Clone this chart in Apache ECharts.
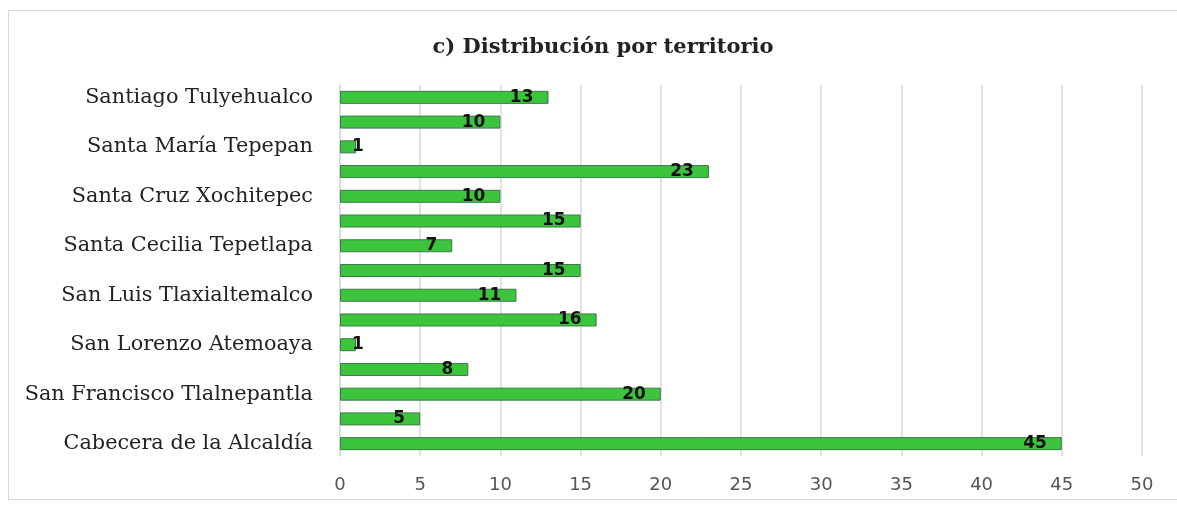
<!DOCTYPE html>
<html>
<head>
<meta charset="utf-8">
<script src="https://cdn.jsdelivr.net/npm/echarts@6/dist/echarts.min.js"></script>
<style>
  html, body { margin: 0; padding: 0; background: #fff; }
  #frame { position: absolute; left: 8px; top: 10px; width: 1175px; height: 488px; border: 1px solid #d9d9d9; }
  #main { position: absolute; left: 0; top: 0; width: 1177px; height: 508px; }
</style>
</head>
<body>
<div id="frame"></div>
<div id="main"></div>
<script>
// territorios, de abajo hacia arriba (como en el eje)
var territorios = [
  'Cabecera de la Alcaldía',
  'San Andrés Ahuayucan',
  'San Francisco Tlalnepantla',
  'San Gregorio Atlapulco',
  'San Lorenzo Atemoaya',
  'San Lucas Xochimanca',
  'San Luis Tlaxialtemalco',
  'San Mateo Xalpa',
  'Santa Cecilia Tepetlapa',
  'Santa Cruz Acalpixca',
  'Santa Cruz Xochitepec',
  'Santa María Nativitas',
  'Santa María Tepepan',
  'Santiago Tepalcatlalpan',
  'Santiago Tulyehualco'
];
var casos = [45, 5, 20, 8, 1, 16, 11, 15, 7, 15, 10, 23, 1, 10, 13];
var ticksX = [0, 5, 10, 15, 20, 25, 30, 35, 40, 45, 50];

var chart = echarts.init(document.getElementById('main'));

// las barras muy cortas llevan la etiqueta por fuera
var datos = casos.map(function (v) {
  if (v < 3) {
    return { value: v, label: { position: 'right', distance: -4 } };
  }
  return v;
});

var option = {
  backgroundColor: 'transparent',
  animation: false,
  title: {
    text: 'c) Distribución por territorio',
    left: 598,
    top: 32,
    textAlign: 'center',
    textStyle: {
      fontFamily: 'DejaVu Serif',
      fontWeight: 'bold',
      fontSize: 21,
      color: '#222'
    }
  },
  grid: { left: 340, right: 35, top: 85, bottom: 52 },
  xAxis: {
    type: 'value',
    min: ticksX[0],
    max: ticksX[ticksX.length - 1],
    interval: 5,
    axisLine: { show: false },
    axisTick: { show: false },
    splitLine: { lineStyle: { color: '#d9d9d9', width: 1.5 } },
    axisLabel: {
      margin: 20,
      fontFamily: 'DejaVu Sans',
      fontSize: 18,
      color: '#555'
    }
  },
  yAxis: {
    type: 'category',
    data: territorios,
    axisLine: { show: true, lineStyle: { color: '#d9d9d9', width: 1.5 } },
    axisTick: { show: false },
    axisLabel: {
      interval: 1,
      margin: 27,
      fontFamily: 'DejaVu Serif',
      fontSize: 20.8,
      color: '#222'
    }
  },
  series: [{
    type: 'bar',
    data: datos,
    barWidth: 13,
    itemStyle: {
      color: '#3cc43c',
      borderColor: '#3a7a4a',
      borderWidth: 1
    },
    label: {
      show: true,
      position: 'insideRight',
      distance: 15,
      fontFamily: 'DejaVu Sans',
      fontWeight: 'bold',
      fontSize: 17,
      color: '#111'
    }
  }]
};

chart.setOption(option);
</script>
</body>
</html>
